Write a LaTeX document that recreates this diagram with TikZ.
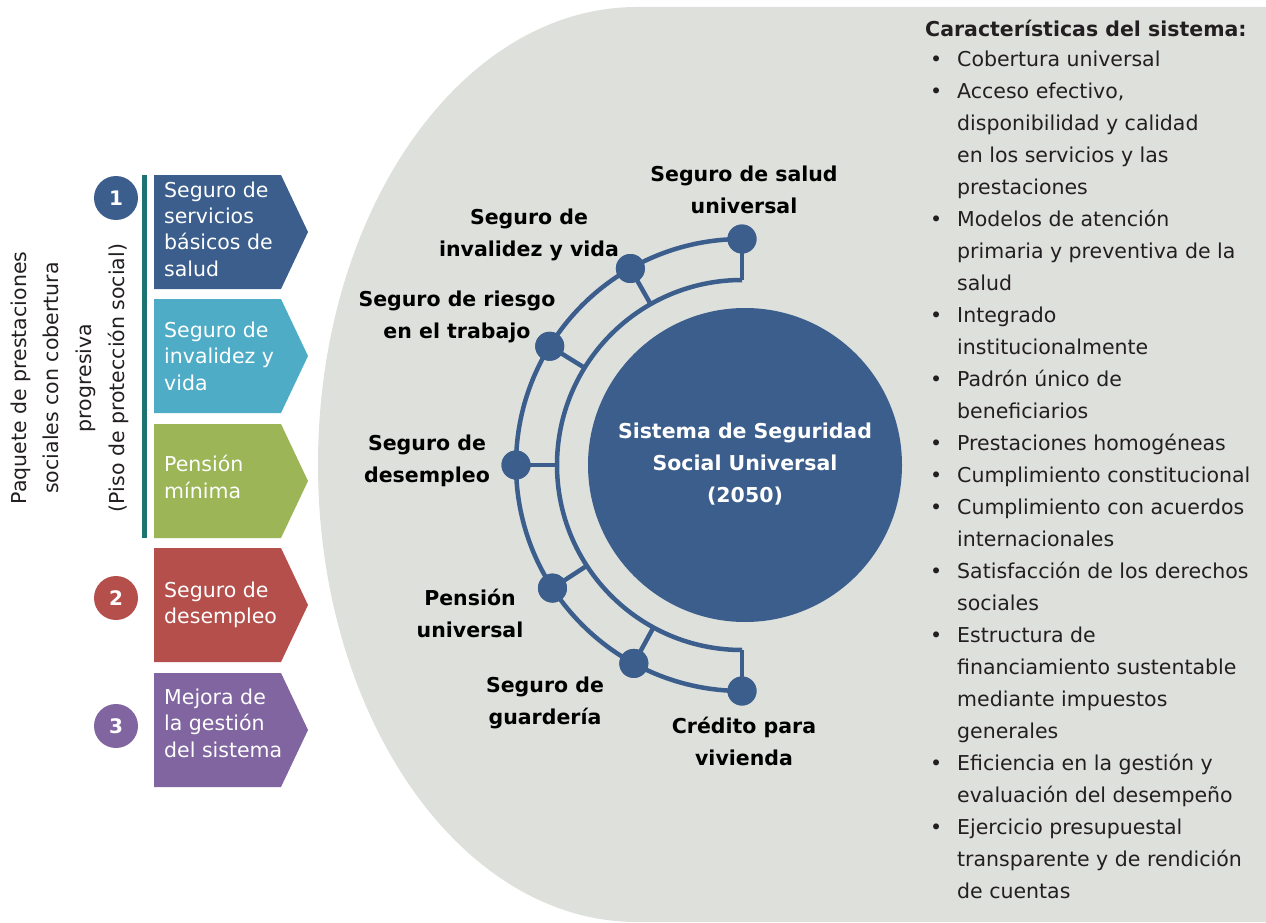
\documentclass[tikz,border=0pt]{standalone}
\usepackage{fontspec}
\setmainfont{DejaVu Sans}
\usetikzlibrary{calc}
\definecolor{dblue}{HTML}{3B5E8C}
\definecolor{lblue}{HTML}{4FACC6}
\definecolor{lgreen}{HTML}{9BB557}
\definecolor{lred}{HTML}{B44F4C}
\definecolor{lpurple}{HTML}{8065A0}
\definecolor{bggray}{HTML}{DEE0DC}
\definecolor{tealline}{HTML}{1B7472}
\definecolor{txtdark}{HTML}{231F20}
\newcommand\boxfont{\fontsize{20.5}{26.4}\selectfont}
\newcommand\lblfont{\bfseries\fontsize{20.5}{32}\selectfont}
\newcommand\listfont{\fontsize{20.5}{32}\selectfont}
\begin{document}
\begin{tikzpicture}[x=1pt,y=-1pt,
  boxtxt/.style={font=\boxfont, align=left, text=white, inner sep=0pt, anchor=west},
  numcirc/.style={circle, fill=#1, minimum size=44pt, inner sep=0pt, text=white, font=\bfseries\fontsize{20}{24}\selectfont},
  lbl/.style={font=\lblfont, align=center, text=black, inner sep=0pt},
  dot/.style={circle, fill=dblue, minimum size=29pt, inner sep=0pt},
  ring/.style={draw=dblue, line width=4.5pt},
  chev/.style={fill=#1}
]
\useasboundingbox (0,0) rectangle (1266,923);
% gray background
\fill[bggray] (637,7) -- (1266,7) -- (1266,922) -- (637,922)
  arc[start angle=90, end angle=270, x radius=319, y radius=457.5] -- cycle;

% left panel
\node[rotate=90, align=center, font=\fontsize{20.5}{32.7}\selectfont, text=txtdark, inner sep=0pt] (paq) at (69.5,378)
  {Paquete de prestaciones\\sociales con cobertura\\progresiva\\(Piso de protección social)};
\draw[tealline, line width=5pt] (144,175) coordinate (tl1) -- (144,538) coordinate (tl2);

\fill[chev=dblue]   (154,175) -- (281,175) -- (308,232) -- (281,289) -- (154,289) -- cycle;
\fill[chev=lblue]   (154,299) -- (281,299) -- (308,356) -- (281,413) -- (154,413) -- cycle;
\fill[chev=lgreen]  (154,424) -- (281,424) -- (308,481) -- (281,538) -- (154,538) -- cycle;
\fill[chev=lred]    (154,548) -- (281,548) -- (308,605) -- (281,662) -- (154,662) -- cycle;
\fill[chev=lpurple] (154,673) -- (281,673) -- (308,730) -- (281,787) -- (154,787) -- cycle;

\node[boxtxt] (b1) at (164,229) {Seguro de\\servicios\\básicos de\\salud};
\node[boxtxt] (b2) at (164,356) {Seguro de\\invalidez y\\vida};
\node[boxtxt] (b3) at (164,477) {Pensión\\mínima};
\node[boxtxt] (b4) at (164,605) {Seguro de\\desempleo};
\node[boxtxt] (b5) at (164,723) {Mejora de\\la gestión\\del sistema};

\node[numcirc=dblue] (n1) at (116,198) {1};
\node[numcirc=lred] (n2) at (116,598) {2};
\node[numcirc=lpurple] (n3) at (116,726) {3};

% central diagram
\coordinate (C) at (742,465);
\node[circle, fill=dblue, minimum size=314pt, inner sep=0pt] (core) at (745,465) {};
\node[font=\lblfont, align=center, text=white, inner sep=0pt] (coretxt) at (745,464)
  {Sistema de Seguridad\\Social Universal\\(2050)};

\draw[ring] ($(C)+(270:226)$) arc[start angle=270, end angle=90, radius=226];
\draw[ring] ($(C)+(270:185)$) arc[start angle=270, end angle=90, radius=185];

\foreach \nm/\ang in {salud/270, inval/240.4, riesgo/211.7, desem/180, pens/147, guard/118.6, cred/90}{
  \coordinate (i-\nm) at ($(C)+(\ang:185)$);
  \node[dot] (d-\nm) at ($(C)+(\ang:226)$) {};
  \draw[ring] (d-\nm.center) -- (i-\nm);
  \node[dot] at (d-\nm) {};
}

\node[lbl] (l-salud)  at (744,190) {Seguro de salud\\universal};
\node[lbl] (l-inval)  at (529,235) {Seguro de\\invalidez y vida};
\node[lbl] (l-riesgo) at (457,317) {Seguro de riesgo\\en el trabajo};
\node[lbl] (l-desem)  at (427,461) {Seguro de\\desempleo};
\node[lbl] (l-pens)   at (470,613) {Pensión\\universal};
\node[lbl] (l-guard)  at (545,703) {Seguro de\\guardería};
\node[lbl] (l-cred)   at (744,741) {Crédito para\\vivienda};

% right list
\node[anchor=west, font=\lblfont, text=txtdark, inner sep=0pt] (title) at (925,28) {Características del sistema:};
\node[anchor=north west, inner sep=0pt, text=txtdark, font=\listfont] (list) at (915,44) {%
\begin{tabular}{@{}l@{}l@{}}
\makebox[42pt]{•} & Cobertura universal\\
\makebox[42pt]{•} & Acceso efectivo,\\
 & disponibilidad y calidad\\
 & en los servicios y las\\
 & prestaciones\\
\makebox[42pt]{•} & Modelos de atención\\
 & primaria y preventiva de la\\
 & salud\\
\makebox[42pt]{•} & Integrado\\
 & institucionalmente\\
\makebox[42pt]{•} & Padrón único de\\
 & beneficiarios\\
\makebox[42pt]{•} & Prestaciones homogéneas\\
\makebox[42pt]{•} & Cumplimiento constitucional\\
\makebox[42pt]{•} & Cumplimiento con acuerdos\\
 & internacionales\\
\makebox[42pt]{•} & Satisfacción de los derechos\\
 & sociales\\
\makebox[42pt]{•} & Estructura de\\
 & financiamiento sustentable\\
 & mediante impuestos\\
 & generales\\
\makebox[42pt]{•} & Eficiencia en la gestión y\\
 & evaluación del desempeño\\
\makebox[42pt]{•} & Ejercicio presupuestal\\
 & transparente y de rendición\\
 & de cuentas
\end{tabular}};
\end{tikzpicture}
\end{document}
